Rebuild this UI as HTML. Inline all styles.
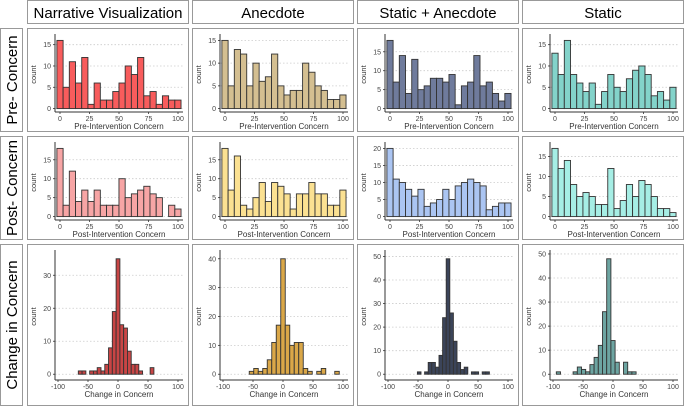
<!DOCTYPE html>
<html><head><meta charset="utf-8"><style>
body{margin:0;background:#fff;font-family:"Liberation Sans",sans-serif;}
svg{display:block}
</style></head><body>
<svg id="c" width="685" height="408" xmlns="http://www.w3.org/2000/svg"></svg>
<script>
const groups=["Narrative Visualization","Anecdote","Static + Anecdote","Static"];
const rowLabels=["Pre- Concern","Post- Concern","Change in Concern"];
const preCounts=[
[16,5,11,6,12,1,6,2,2,4,6,10,8,12,3,4,1,3,2,2],
[15,5,13,12,5,10,6,7,12,5,3,4,4,10,8,5,4,2,2,3],
[18,7,14,4,13,5,6,8,8,7,9,1,6,7,14,6,7,4,2,4],
[13,8,16,8,6,4,6,1,4,8,5,4,7,9,10,8,3,4,2,5]];
const postCounts=[
[18,3,12,4,7,4,7,3,3,3,10,5,6,7,8,6,5,0,3,2],
[18,7,16,3,2,5,9,4,9,8,6,2,6,6,9,6,6,3,3,7],
[20,11,10,8,6,8,3,4,5,8,5,9,10,11,10,9,2,3,4,4],
[17,12,14,8,5,6,5,3,3,12,2,4,8,5,9,8,5,2,2,1]];
const changeStart=[-63,-52.5,-48,-91];
const changeWidth=[6.3,7.5,6,7];
const changeCounts=[
[1,1,0,1,1,2,1,3,8,19,35,15,14,7,3,3,1,0,0,2],
[1,2,1,2,5,11,17,40,17,10,11,11,2,1,0,1,2,0,0,1],
[1,0,1,5,5,3,8,24,49,26,14,5,2,3,0,1,1,0,1,1],
[1,0,0,0,1,3,2,1,4,7,12,26,48,14,5,0,5,1,1,0]];
const preTicks=[0,25,50,75,100];
const changeTicks=[-100,-50,0,50,100];
const fills=[["#f85c5c","#d4bf91","#6f7b9c","#83d3ca"],["#f7a5a5","#fbe192","#abc5f2","#a6eee5"],["#c84545","#daa748","#3b4459","#6da5a2"]];
const NS="http://www.w3.org/2000/svg";
const svg=document.getElementById('c');
function mk(tag,attrs,parent){const e=document.createElementNS(NS,tag);for(const k in attrs)e.setAttribute(k,attrs[k]);(parent||svg).appendChild(e);return e;}
// headers
const colX=[27,192,357,522];
groups.forEach((g,i)=>{
 const r=mk('rect',{x:colX[i]+0.5,y:0.5,width:161,height:23,fill:'#fff',stroke:'#999'});
 
 
 const t=mk('text',{x:colX[i]+81,y:18,'text-anchor':'middle','font-size':'15',fill:'#000'});
 t.textContent=g;
 
 
});
const rowY=[28,136,244],rowH=[104,104,162];
rowLabels.forEach((l,i)=>{
 const r=mk('rect',{x:0.5,y:rowY[i]+0.5,width:22,height:rowH[i]-1,fill:'#fff',stroke:'#999'});
 
 
 const cy=rowY[i]+rowH[i]/2;
 const t=mk('text',{x:17,y:cy,'text-anchor':'middle','font-size':'15',transform:`rotate(-90 17 ${cy})`});
 t.textContent=l;
 
 
});
function panel(col,row,counts,start,width,xmin,xmax,ticks,xlab){
 const px=colX[col],py=rowY[row],h=rowH[row];
 const g=mk('g',{});
 
 
 mk('rect',{x:px+0.5,y:py+0.5,width:161,height:h-1,fill:'#fff',stroke:'#999'},g);
 const L=px+28,R=px+156;
 const x0=row<2?px+33:px+31,x1=row<2?px+151:px+151;
 const sx=v=>x0+(v-xmin)/(xmax-xmin)*(x1-x0);
 const yTop=py+9,yBot=row<2?py+84:py+136;
 const M=Math.max(...counts);
 const sy=v=>yBot-(v+0.05*M)/(1.1*M)*(yBot-yTop);
 const step=M>25?10:5;
 for(let t=0;t<=M*1.05;t+=step){
  const gl=mk('line',{x1:L,x2:R,y1:sy(t),y2:sy(t),stroke:'#ccc','stroke-dasharray':'1.5,2','stroke-width':0.8},g);
  
  
  const tl=mk('text',{x:L-4,y:sy(t)+2.5,'text-anchor':'end','font-size':'7',fill:'#444'},g);
  tl.textContent=t;
  
  
  mk('line',{x1:L-2,x2:L,y1:sy(t),y2:sy(t),stroke:'#333','stroke-width':0.8},g);
 }
 counts.forEach((c,i)=>{
  const a=start+i*width-width/2,b=a+width;
  const bar=mk('rect',{x:sx(a),y:sy(c),width:sx(b)-sx(a),height:sy(0)-sy(c),fill:fills[row][col],stroke:'#333','stroke-width':0.9},g);
  
  
 });
 mk('line',{x1:L,x2:L,y1:yTop-3,y2:yBot,stroke:'#333','stroke-width':1},g);
 mk('line',{x1:L,x2:R,y1:yBot,y2:yBot,stroke:'#333','stroke-width':1},g);
 ticks.forEach(t=>{
  mk('line',{x1:sx(t),x2:sx(t),y1:yBot,y2:yBot+2,stroke:'#333','stroke-width':0.8},g);
  const tl=mk('text',{x:sx(t),y:yBot+9,'text-anchor':'middle','font-size':'7',fill:'#444'},g);
  tl.textContent=t;
  
  
 });
 const xt=mk('text',{x:(L+R)/2,y:yBot+17,'text-anchor':'middle','font-size':'8',fill:'#333'},g);
 xt.textContent=xlab;
 
 
 const ycy=(yTop+yBot)/2;
 const yt=mk('text',{x:px+9,y:ycy,'text-anchor':'middle','font-size':'7.5',fill:'#333',transform:`rotate(-90 ${px+9} ${ycy})`},g);
 yt.textContent='count';
 
 
}
const bw=105.2/20;
for(let c=0;c<4;c++){
 panel(c,0,preCounts[c],0,bw,0,100,preTicks,'Pre-Intervention Concern');
 panel(c,1,postCounts[c],0,bw,0,100,preTicks,'Post-Intervention Concern');
 panel(c,2,changeCounts[c],changeStart[c],changeWidth[c],-100,100,changeTicks,'Change in Concern');
}
</script>
</body></html>
